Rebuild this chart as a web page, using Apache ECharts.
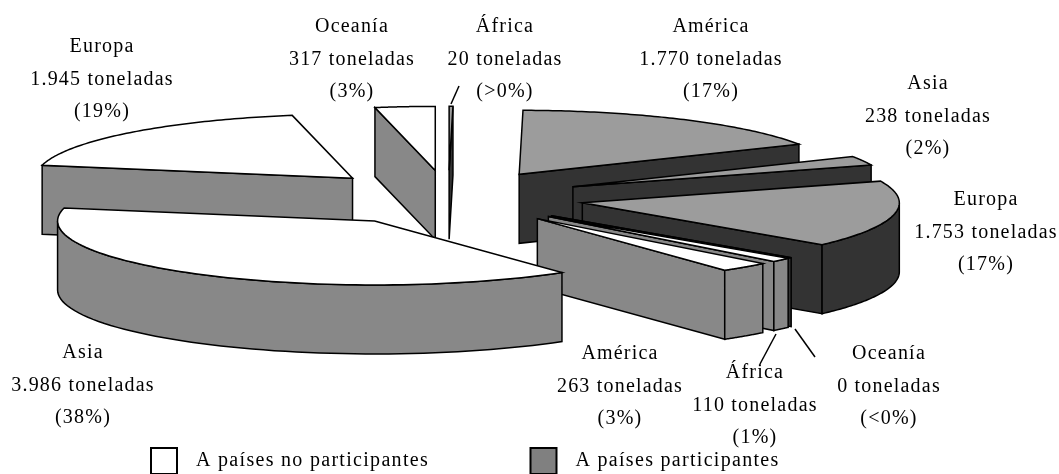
<!DOCTYPE html>
<html>
<head>
<meta charset="utf-8">
<style>html,body{margin:0;padding:0;background:#fff}#c{width:1059px;height:474px}</style>
<script src="https://cdn.jsdelivr.net/npm/echarts@6/dist/echarts.min.js"></script>
</head>
<body>
<div id="c"></div>
<script>
// ---- data (clockwise from 12 o'clock) ----
const regions = ['África','América','Asia','Europa','Oceanía','África','América','Asia','Europa','Oceanía'];
const tons    = [20,1770,238,1753,0,110,263,3986,1945,317];
const shares  = ['(>0%)','(17%)','(2%)','(17%)','(<0%)','(1%)','(3%)','(38%)','(19%)','(3%)'];
const groupOf = [1,1,1,1,1,0,0,0,0,0];
const groupNames = ['A países no participantes','A países participantes'];

// ---- presentation ----
const geo = {cx:448.3, cy:197.8, rx:317, ry:64, explode:0.43, depth:69};
const groupStyle = [
  {top:'#ffffff', wall:'#888888', legend:'#ffffff'},
  {top:'#9c9c9c', wall:'#333333', legend:'#808080'}
];
const labelPos = [[505,27],[711,27],[928,84],[986,200],[889,354],[755,373],[620,354],[83,353],[102,47],[352,27]];
const lineH = 32.5;
const leaders = [[451,104,459,86],[776,334,760,364],[795,329,815,357]];
const FONT = '"Liberation Serif","Times New Roman",serif';

// the reference text is set with open tracking
const nativeFill = CanvasRenderingContext2D.prototype.fillText;
CanvasRenderingContext2D.prototype.fillText = function(t){
  this.letterSpacing = groupNames.includes(t) ? '1.3px' : '1.2px';
  return nativeFill.apply(this, arguments);
};

const total = tons.reduce((a,b)=>a+b,0);
const RAD = Math.PI/180;
let run = 0;
const slices = tons.map((v,i)=>{
  const a0 = run/total*360; run += v; const a1 = run/total*360; const m=(a0+a1)/2*RAD;
  return {i, a0, a1,
    ax: geo.cx + geo.explode*geo.rx*Math.sin(m),
    ay: geo.cy - geo.explode*geo.ry*Math.cos(m)};
});
function pt(s,a){return [s.ax+geo.rx*Math.sin(a*RAD), s.ay-geo.ry*Math.cos(a*RAD)];}
function down(p){return [p[0],p[1]+geo.depth];}
function renderSlice(params, api){
  const s = slices[api.value(0)];
  const st = groupStyle[groupOf[s.i]];
  const base = {stroke:'#000', lineWidth:1.5, lineJoin:'miter'};
  const kids = [];
  const poly = (pts,fill)=>kids.push({type:'polygon',shape:{points:pts},style:Object.assign({fill},base)});
  const apex=[s.ax,s.ay], apexD=down(apex);
  if (Math.sin(s.a0*RAD) < -1e-6){const o=pt(s,s.a0); poly([apex,o,down(o),apexD],st.wall);}
  if (Math.sin(s.a1*RAD) >  1e-6){const o=pt(s,s.a1); poly([apex,o,down(o),apexD],st.wall);}
  const lo=Math.max(s.a0,90), hi=Math.min(s.a1,270);
  if (hi>lo){
    const up=[],dn=[];
    for(let k=0;k<=60;k++){const a=lo+(hi-lo)*k/60; const p=pt(s,a); up.push(p); dn.unshift(down(p));}
    poly(up.concat(dn),st.wall);
  }
  const top=[apex];
  for(let k=0;k<=80;k++){top.push(pt(s,s.a0+(s.a1-s.a0)*k/80));}
  poly(top,st.top);
  return {type:'group',children:kids};
}
function seriesFor(g){
  return {
    type:'custom', name:groupNames[g], coordinateSystem:'none', silent:true,
    renderItem:renderSlice, animation:false,
    itemStyle:{color:groupStyle[g].legend, borderColor:'#000', borderWidth:3},
    data:slices.filter(s=>groupOf[s.i]===g).sort((a,b)=>a.ay-b.ay).map(s=>[s.i, tons[s.i]])
  };
}
const fmt = v => String(v).replace(/\B(?=(\d{3})+$)/g,'.');
const texts = [];
regions.forEach((r,i)=>{
  const p = labelPos[i];
  [r, fmt(tons[i])+' toneladas', shares[i]].forEach((t,k)=>{
    texts.push({type:'text',silent:true,x:p[0],y:p[1]+k*lineH,
      style:{text:t,fill:'#000',font:'20px '+FONT,align:'center',verticalAlign:'middle'}});
  });
});
leaders.forEach(l=>texts.push({type:'line',silent:true,shape:{x1:l[0],y1:l[1],x2:l[2],y2:l[3]},style:{stroke:'#000',lineWidth:1.5}}));

const chart = echarts.init(document.getElementById('c'),null,{renderer:'canvas',width:1059,height:474});
chart.setOption({
  animation:false,
  backgroundColor:'#fff',
  legend:{left:150,top:447,itemWidth:26,itemHeight:26,itemGap:133,orient:'horizontal',padding:0,
    icon:'rect',selectedMode:false,
    data:groupNames,
    textStyle:{fontFamily:FONT,fontSize:20,color:'#000',padding:[9,0,0,14]}},
  series:[seriesFor(1),seriesFor(0)],
  graphic:texts
});
</script>
</body>
</html>
